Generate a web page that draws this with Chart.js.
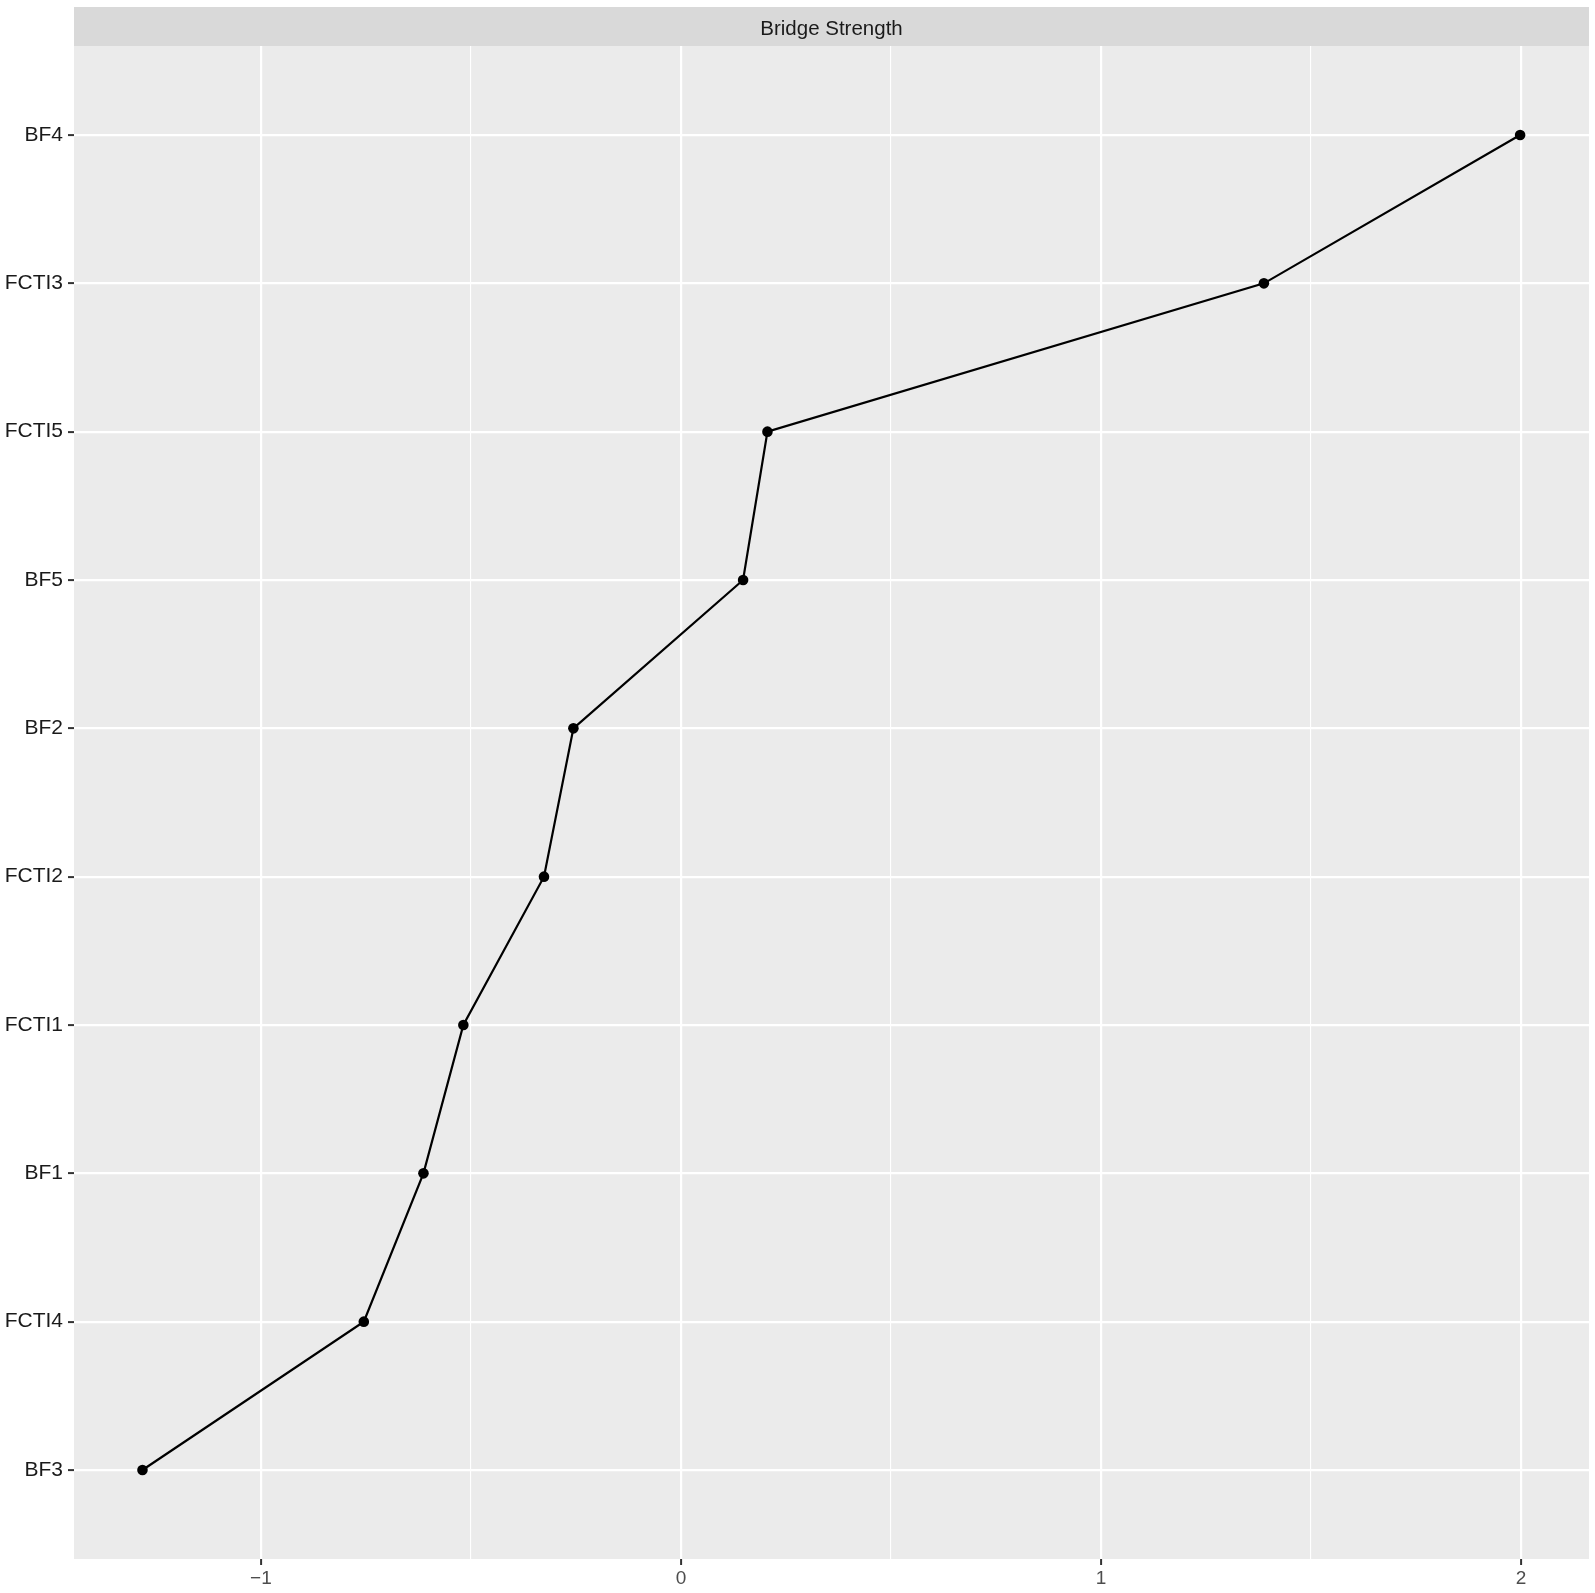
<!DOCTYPE html>
<html>
<head>
<meta charset="utf-8">
<script src="https://cdn.jsdelivr.net/npm/chart.js@4/dist/chart.umd.min.js"></script>
<style>
  html, body { margin: 0; padding: 0; background: #fff; }
  #wrap { width: 1595px; height: 1593px; }
</style>
</head>
<body>
<div id="wrap"><canvas id="bridgeChart"></canvas></div>
<script>
// node names, bottom to top
const nodes = ["BF3", "FCTI4", "BF1", "FCTI1", "FCTI2", "BF2", "BF5", "FCTI5", "FCTI3", "BF4"];
// bridge strength (z-scores), same order
const strength = [-1.282, -0.755, -0.613, -0.518, -0.326, -0.256, 0.148, 0.206, 1.388, 1.998];
const xTicks = [-1, -0.5, 0, 0.5, 1, 1.5, 2];
const stripTitle = "Bridge Strength";

const points = nodes.map((n, i) => ({ x: strength[i], y: i }));

// ggplot-like panel background + facet strip
const panelBg = {
  id: "panelBg",
  beforeDraw(chart) {
    const { ctx, chartArea: a } = chart;
    ctx.save();
    ctx.fillStyle = "#EBEBEB";
    ctx.fillRect(a.left, a.top, a.right - a.left, a.bottom - a.top);
    ctx.fillStyle = "#D9D9D9";
    ctx.fillRect(a.left, 7, a.right - a.left, a.top - 7);
    ctx.fillStyle = "#1A1A1A";
    ctx.font = "20.5px 'Liberation Sans', Arial, sans-serif";
    ctx.textAlign = "center";
    ctx.textBaseline = "middle";
    ctx.fillText(stripTitle, (a.left + a.right) / 2, (7 + a.top) / 2 + 3);
    ctx.restore();
  }
};

const isMajor = (v) => Number.isInteger(v);

new Chart(document.getElementById("bridgeChart"), {
  type: "scatter",
  data: {
    datasets: [{
      data: points,
      showLine: true,
      borderColor: "#000",
      borderWidth: 2.2,
      pointRadius: 5.3,
      pointHoverRadius: 5.3,
      pointBackgroundColor: "#000",
      pointBorderWidth: 0
    }]
  },
  options: {
    responsive: true,
    maintainAspectRatio: false,
    animation: false,
    layout: { padding: { top: 46, right: 6, left: 0, bottom: 0 } },
    plugins: { legend: { display: false }, tooltip: { enabled: false } },
    scales: {
      x: {
        type: "linear",
        min: -1.445,
        max: 2.162,
        afterBuildTicks: (s) => { s.ticks = xTicks.map((v) => ({ value: v })); },
        afterFit: (s) => { s.height = 34; },
        border: { display: false },
        grid: {
          color: "#FFFFFF",
          lineWidth: (c) => (isMajor(c.tick.value) ? 2.2 : 1.1),
          tickLength: 6,
          tickWidth: 2,
          tickColor: (c) => (isMajor(c.tick.value) ? "#333333" : "rgba(0,0,0,0)")
        },
        ticks: {
          autoSkip: false,
          maxRotation: 0,
          padding: 2,
          color: "#4D4D4D",
          font: { family: "'Liberation Sans', Arial, sans-serif", size: 19 },
          callback: (v) => (isMajor(v) ? String(v).replace("-", "\u2212") : "")
        }
      },
      y: {
        type: "linear",
        min: -0.6,
        max: 9.6,
        afterBuildTicks: (s) => { s.ticks = nodes.map((n, i) => ({ value: i })); },
        afterFit: (s) => { s.width = 74; },
        border: { display: false },
        grid: {
          color: "#FFFFFF",
          lineWidth: 2.2,
          tickLength: 6,
          tickWidth: 2,
          tickColor: "#333333"
        },
        ticks: {
          autoSkip: false,
          padding: 5,
          color: "#1A1A1A",
          font: { family: "'Liberation Sans', Arial, sans-serif", size: 21 },
          callback: (v) => nodes[v]
        }
      }
    }
  },
  plugins: [panelBg]
});
</script>
</body>
</html>
